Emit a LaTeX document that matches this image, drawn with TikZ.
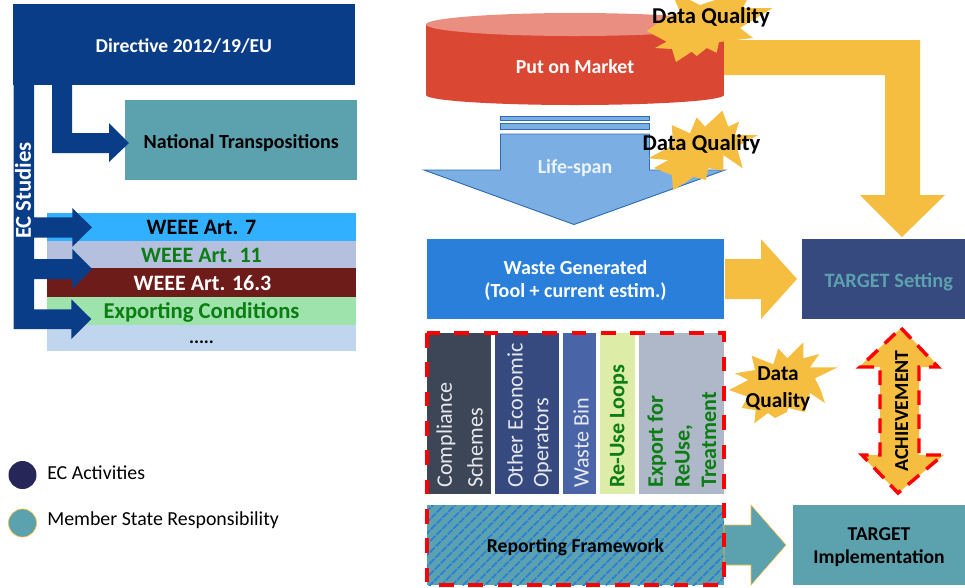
\documentclass[tikz,border=0pt]{standalone}
\usepackage{fontspec}
\setmainfont{Carlito}
\usetikzlibrary{patterns.meta}
\definecolor{navy}{HTML}{0A3D87}
\definecolor{teal2}{HTML}{5BA1AE}
\definecolor{sun}{HTML}{F5BE41}
\definecolor{slate}{HTML}{374A7F}
\definecolor{leaf}{HTML}{0B7D12}
\definecolor{redc}{HTML}{DA4733}
\definecolor{redl}{HTML}{E98E80}
\definecolor{sky}{HTML}{7BAFE4}
\definecolor{skyd}{HTML}{2E6DB4}
\definecolor{waste}{HTML}{2A7FDB}
\newcommand{\fs}[1]{\fontsize{#1}{#1}\selectfont}
\tikzset{
  x=0.75pt,y=-0.75pt,
  lbl/.style={inner sep=0pt,align=center,text depth=0pt},
  vlbl/.style={inner sep=0pt,rotate=90,anchor=west,align=left},
  navyarrow/.style={fill=navy},
  sunfill/.style={fill=sun},
  reddash/.style={draw=red,line width=3pt,dash pattern=on 11pt off 11pt},
  reddashb/.style={draw=red,line width=2.6pt,dash pattern=on 11pt off 7pt},
}
\begin{document}
\begin{tikzpicture}
\useasboundingbox (0,0) rectangle (965,587);
% left column
\fill[teal2] (125.3,100) rectangle node[lbl,text=black,font=\bfseries\fs{15},yshift=-1pt] (nat) {National Transpositions} (357,180);
\fill[fill=white] (47,212.7) rectangle (356,351);
\fill[fill={rgb,255:red,49;green,176;blue,255}] (47,212.7) rectangle node[lbl,text=black,font=\bfseries\fs{16.5},yshift=-0.5pt] (a7) {WEEE Art. 7} (356,240.7);
\fill[fill={rgb,255:red,180;green,192;blue,222}] (47,240.7) rectangle node[lbl,text=leaf,font=\bfseries\fs{16.5},yshift=-0.5pt] (a11) {WEEE Art. 11} (356,268.3);
\fill[fill={rgb,255:red,109;green,28;blue,26}] (47,268.3) rectangle node[lbl,text=white,font=\bfseries\fs{16.5},yshift=-0.5pt] (a16) {WEEE Art. 16.3} (358,296.7);
\fill[fill=white] (356,268) rectangle (358.5,297);
\fill[fill={rgb,255:red,159;green,227;blue,172}] (47,296.7) rectangle node[lbl,text=leaf,font=\bfseries\fs{17},yshift=0pt] (exc) {Exporting Conditions} (356,324.7);
\fill[fill={rgb,255:red,191;green,214;blue,238}] (47,324.7) rectangle node[lbl,text=black,font=\bfseries\fs{14},yshift=-3pt] (dots) {.....} (356,351);
\fill[navyarrow] (13.7,85) -- (34,85) -- (34,217.3) -- (72.3,217.3) -- (72.3,208) -- (92,227.3) -- (72.3,246.7) -- (72.3,237.7)
  -- (34,237.7) -- (34,259) -- (72.3,259) -- (72.3,249) -- (92,269) -- (72.3,289) -- (72.3,279)
  -- (34,279) -- (34,309.3) -- (71.3,309.3) -- (71.3,299.3) -- (91.3,319) -- (71.3,339) -- (71.3,329) -- (13.7,329) -- cycle;
\fill[navyarrow] (52,85) -- (72,85) -- (72,133) -- (109,133) -- (109,123) -- (129,143) -- (109,162) -- (109,153) -- (52,153) -- cycle;
\fill[navy] (12.7,4.3) rectangle node[lbl,text=white,font=\bfseries\fs{14.75},yshift=-1pt] (dir) {Directive 2012/19/EU} (355,85);
\node[lbl,text=white,font=\bfseries\fs{17},rotate=90] (ecs) at (23,190.5) {EC Studies};
% legend
\fill[fill={rgb,255:red,38;green,38;blue,88}] (22.5,475) circle[radius=14];
\filldraw[fill=teal2,draw=sun,line width=0.5pt] (22.5,523) circle[radius=14];
\node[lbl,anchor=west,font=\fs{14.9}] (leg1) at (47,473) {EC Activities};
\node[lbl,anchor=west,font=\fs{14.9}] (leg2) at (47,519) {Member State Responsibility};
% yellow bent arrow
\fill[sunfill] (720,40) -- (920,40) -- (920,195) -- (945,195) -- (902,237) -- (860,195) -- (885,195) -- (885,75) -- (720,75) -- cycle;
% cylinder
\fill[redc] (575,95) ellipse[x radius=149,y radius=10];
\fill[redc] (426,25) rectangle (724,95);
\fill[redl] (575,24.5) ellipse[x radius=149,y radius=11.5];
\node[lbl,text=white,font=\bfseries\fs{14.9}] (pom) at (575,66.5) {Put on Market};
% life-span arrow
\begin{scope}[fill=sky,draw=skyd,line width=0.7pt]
\filldraw (500.5,116.5) rectangle (649.5,120.5);
\filldraw (500.5,123.5) rectangle (649.5,129.5);
\filldraw (500.5,134) -- (649.5,134) -- (649.5,170) -- (725,170) -- (574,224.5) -- (424,170) -- (500.5,170) -- cycle;
\end{scope}
\node[lbl,text=white!85!sky,font=\bfseries\fs{14.9}] (ls) at (575,166.5) {Life-span};
% waste generated
\fill[waste] (427,239) rectangle node[lbl,text=white,font=\bfseries\fs{15},align=center] (wg) {Waste Generated\\[2.5pt](Tool + current estim.)} (724,319);
\fill[sunfill] (725,259) -- (761,259) -- (761,239) -- (797,279) -- (761,319) -- (761,299) -- (725,299) -- cycle;
\fill[slate] (802,239) rectangle node[lbl,text=teal2,font=\bfseries\fs{15.3},xshift=4pt,yshift=-1pt] (ts) {TARGET Setting} (965,319);
% columns
\fill[fill={rgb,255:red,61;green,70;blue,86}] (427,333) rectangle (491,494);
\fill[slate] (495,333) rectangle (559,494);
\fill[fill={rgb,255:red,74;green,100;blue,168}] (563,333) rectangle (596,494);
\fill[fill={rgb,255:red,221;green,237;blue,168}] (600,333) rectangle (635,494);
\fill[fill={rgb,255:red,174;green,184;blue,200}] (639,333) rectangle (724,494);
\begin{scope}[text=white!88!slate,font=\fs{16.6}]
\node[vlbl] (c1) at (446,488) {Compliance};
\node[vlbl] (c2) at (475,488) {Schemes};
\node[vlbl] (o1) at (515,488) {Other Economic};
\node[vlbl] (o2) at (543,488) {Operators};
\node[vlbl] (wb) at (581,488) {Waste Bin};
\end{scope}
\begin{scope}[text=leaf,font=\bfseries\fs{16.6}]
\node[vlbl] (r1) at (619,488) {Re-Use Loops};
\node[vlbl] (e1) at (657,488) {Export for};
\node[vlbl] (e2) at (684,488) {ReUse,};
\node[vlbl] (e3) at (709,488) {Treatment};
\end{scope}
% reporting
\fill[teal2] (427,505) rectangle (724,585);
\fill[pattern={Lines[angle=45,distance=6.4pt,line width=1.6pt]},pattern color=waste] (427,505) rectangle (724,585);
\node[lbl,text=black,font=\bfseries\fs{14.75}] (rf) at (575.5,546) {Reporting Framework};
\filldraw[fill=teal2,draw=sun,line width=0.4pt] (724,525) -- (751,525) -- (751,505) -- (786,545) -- (751,585) -- (751,565) -- (724,565) -- cycle;
\draw[reddash] (427,333) rectangle (724,585);
\fill[teal2] (793,505) rectangle node[lbl,text=black,font=\bfseries\fs{14.7},align=center,yshift=-0.5pt] (ti) {TARGET\\[3pt]Implementation} (965,585);
% achievement
\fill[sunfill] (901,328) -- (940,367) -- (919,367) -- (919,455) -- (944,455) -- (898,493) -- (861,455) -- (880,455) -- (880,367) -- (859,367) -- cycle;
\draw[reddashb] (901,328) -- (938,367) -- (919,367) -- (919,455) -- (943,455) -- (898,493) -- (862,455) -- (880,455) -- (880,367) -- (860,367) -- cycle;
\node[lbl,text=black,font=\bfseries\fs{14.9},rotate=90] (ach) at (901.5,411) {ACHIEVEMENT};
% stars
\fill[sunfill] (646.7,31) -- (666.7,41.7) -- (655,48) -- (672,49) -- (676,62) -- (691.7,51.7) -- (696.7,56) -- (706.7,48) -- (716.7,52.7) -- (719,42) -- (753,38) -- (740,28) -- (772.7,8) -- (743,8) -- (746.7,0) -- (715,0) -- (700,5) -- (690,0) -- (675,0) -- (680,12) -- (667,17) -- cycle;
\fill[sunfill] (722.3,110.7) -- (728.3,126.7) -- (739,121.7) -- (735,135) -- (758,135) -- (736.7,146.7) -- (742.7,168.3) -- (723.3,155) -- (723.3,170.7) -- (708.3,168.3) -- (705.7,180) -- (693.3,176.7) -- (686.7,181.7) -- (673.3,190) -- (671.7,175) -- (654,168) -- (668.3,160) -- (648.3,158.3) -- (673.3,145) -- (671.7,125) -- (690,133.3) -- (696.7,117.3) -- (705,126.7) -- cycle;
\fill[sunfill] (803.3,342.3) -- (803.3,358.3) -- (819.3,354) -- (810,367.3) -- (837.7,367.3) -- (815,378.3) -- (820,388.3) -- (825,403) -- (810,393) -- (805,412) -- (788,408) -- (787,412) -- (775,418) -- (768,413) -- (754.3,423.3) -- (755.7,410) -- (741.7,408) -- (747.7,396.7) -- (729,390) -- (748.3,380) -- (735,373.3) -- (755,370) -- (751.7,355.7) -- (773.3,364.3) -- (778.3,348.3) -- (787.3,358.3) -- cycle;
\node[lbl,text=black,font=\bfseries\fs{17}] (dq1) at (711,16) {Data Quality};
\node[lbl,text=black,font=\bfseries\fs{17}] (dq2) at (701.5,143) {Data Quality};
\node[lbl,text=black,font=\bfseries\fs{16},align=center] (dq3) at (778,387) {Data\\[4pt]Quality};
\end{tikzpicture}
\end{document}
